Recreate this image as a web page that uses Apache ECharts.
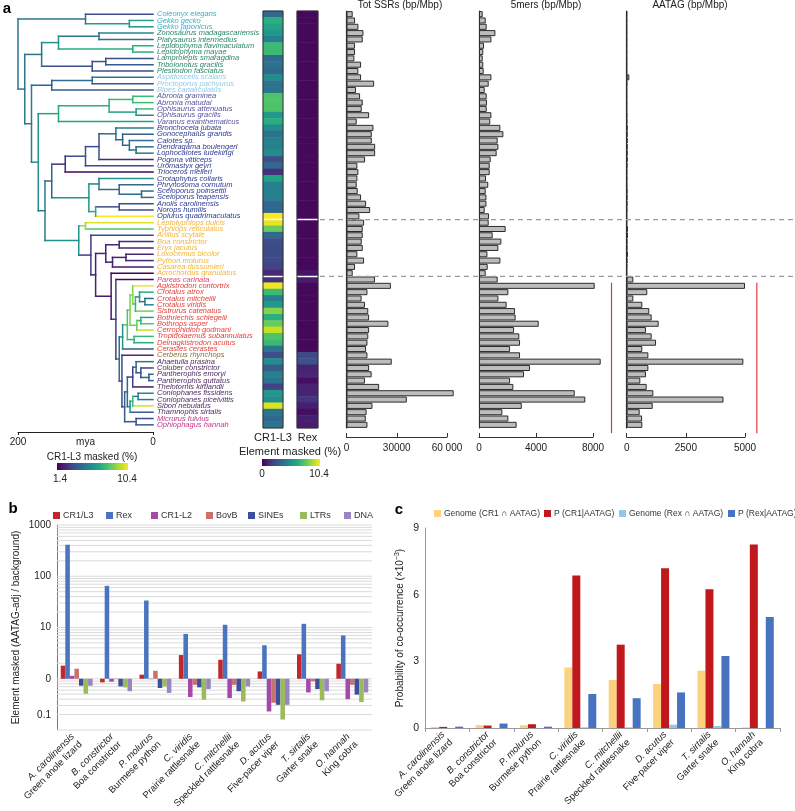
<!DOCTYPE html>
<html><head><meta charset="utf-8">
<script src="https://cdn.jsdelivr.net/npm/echarts@6/dist/echarts.min.js"></script>
<style>html,body{margin:0;padding:0;background:#fff}#c{width:795px;height:811px}</style>
</head><body><div id="c"></div>
<script>
// ---------------- DATA ----------------
const species = ['Coleonyx elegans','Gekko gecko','Gekko japonicus','Zonosaurus madagascariensis','Platysaurus intermedius','Lepidophyma flavimaculatum','Lepidophyma mayae','Lamprolepis smaragdina','Tribolonotus gracilis','Plestiodon fasciatus','Aspidoscelis scalaris','Proctoporus pachyurus','Bipes canaliculatus','Abronia graminea','Abronia matudai','Ophisaurus attenuatus','Ophisaurus gracilis','Varanus exanthematicus','Bronchocela jubata','Gonocephalus grandis','Calotes sp.','Dendragama boulengeri','Lophocalotes ludekingi','Pogona vitticeps','Uromastyx geyri','Trioceros melleri','Crotaphytus collaris','Phrynosoma cornutum','Sceloporus poinsettii','Sceloporus teapensis','Anolis carolinensis','Norops humilis','Oplurus quadrimaculatus','Leptotyphlops dulcis','Typhlops reticulatus','Anilius scytale','Boa constrictor','Eryx jaculus','Loxocemus bicolor','Python molurus','Casarea dussumieri','Acrochordus granulatus','Pareas carinata','Agkistrodon contortrix','Crotalus atrox','Crotalus mitchellii','Crotalus viridis','Sistrurus catenatus','Bothriechis schlegelii','Bothrops asper','Cerrophidion godmani','Tropidolaemus subannulatus','Deinagkistrodon acutus','Cerastes cerastes','Cerberus rhynchops','Ahaetulla prasina','Coluber constrictor','Pantherophis emoryi','Pantherophis guttatus','Thelotornis kirtlandii','Coniophanes fissidens','Coniophanes piceivittis','Sibon nebulatus','Thamnophis sirtalis','Micrurus fulvius','Ophiophagus hannah'];
const speciesClade = ['gek','gek','gek','sci','sci','sci','sci','sci','sci','sci','lac','lac','lac','ang','ang','ang','ang','ang','igu','igu','igu','igu','igu','igu','igu','igu','igu','igu','igu','igu','igu','igu','igu','hen','hen','hen','hen','hen','hen','hen','hen','hen','par','vip','vip','vip','vip','vip','vip','vip','vip','vip','vip','vip','cer','col','col','col','col','col','col','col','col','col','ela','ela'];
const cr1l3 = [3.5,6.5,6.0,5.5,4.5,7.0,7.0,3.5,4.0,3.5, 5.0,4.0,4.0,7.5,7.5,7.5,5.5,6.5,5.0,4.0, 4.5,4.5,5.0,2.5,3.5,1.5,6.0,4.5,4.5,4.5, 3.5,3.5,10.4,10.0,8.0,3.5,2.5,2.3,2.3,2.3, 2.0,1.2,1.5,10.2,7.0,4.5,5.5,8.5,6.5,8.0, 9.5,7.5,7.0,4.0,2.5,5.0,3.0,4.5,4.0,2.0, 5.5,5.0,9.8,4.0,3.5,4.0];
const rexMasked = [0.2,0.2,0.2,0.2,0.2,0.2,0.2,0.2,0.2,0.2, 0.2,0.2,0.2,0.2,0.2,0.2,0.2,0.2,0.2,0.2, 0.2,0.2,0.2,0.2,0.2,0.2,0.2,0.2,0.2,0.2, 0.2,0.2,0.2,0.2,0.2,0.2,0.2,0.2,0.2,0.2, 0.2,0.6,0.8,0.2,0.2,0.2,0.2,0.2,0.2,0.2, 0.2,0.2,0.2,0.2,2.3,2.6,1.0,1.1,0.4,1.0, 1.0,1.6,0.9,0.4,0.9,0.8];
const totSSR = [3700,5100,7100,10100,9700,5100,5100,4700,8700,7100, 8700,16500,5700,8100,9700,9100,13500,6100,16100,15100, 15100,17100,17100,11100,6500,7100,6500,6100,6700,8700, 11700,14100,7700,10500,9700,9700,9100,9700,6500,10500, 5100,3700,17000,26500,12500,9000,11000,13000,13500,25000, 13500,13000,12500,11700,12500,27000,13500,15000,11000,19500, 64000,36000,15500,12000,11500,12500];
const fiveMers = [260,470,540,1150,870,350,300,260,300,330, 870,680,400,540,560,540,870,790,1500,1710, 1310,1360,1240,820,750,750,490,650,470,520, 520,400,700,680,1870,960,1570,1360,590,1500, 610,470,1310,8120,2060,1360,1940,2530,2570,4190, 2460,2830,2880,2180,2880,8540,3580,3160,2180,2410, 6720,7460,3000,1640,2060,2640];
const aatag = [5,5,5,5,5,5,5,5,5,5, 110,10,5,5,5,5,10,10,30,30, 30,30,30,30,20,10,10,10,20,20, 20,10,5,5,50,50,20,20,50,20, 10,5,280,5000,870,280,660,955,1055,1350, 815,1055,1240,660,915,4930,915,815,575,845, 1125,4090,1100,550,650,660];
// tree: leaves are row indices, number after ')' is node age (mya)
const treeGekkota = '(0,(1,2)35)100';
const treeScinci = '(((3,4)80,(5,6)30)140,((7,8)70,9)90)165';
const treeLacert = '((10,11)90,12)150';
const treeAngui = '(((13,14)30,(15,16)25)65,17)140';
const treeIguania = '(((((18,(19,(20,(21,22)25)35)45)55,23)80,24)100,25)130,((26,(27,(28,29)17)50)80,((30,31)50,32)85)95)150';
const treeViper = '((((43,((44,(45,46)12)20,47)26)30,((48,49)18,50)24)34,(51,52)28)38,53)45';
const treeColub = '(54,((((55,(56,(57,58)6)18)25,59)30,(((60,61)22,62)30,63)34)38,(64,65)25)42)46';
const treeSnake = `((33,34)100,(35,(((36,37)50,((38,39)40,40)60)70,(41,(42,(${treeViper},${treeColub})50)55)62)85)92)110`;
const treeNewick = `(${treeGekkota},(${treeScinci},(${treeLacert},(${treeAngui},(${treeIguania},${treeSnake})160)170)180)190)200`;
const groupBreaks = [33, 42];           // row boundaries marked by dashed lines
const snakeSpan = [43, 66.8];           // rows spanned by red reference lines
const red5mers = 9300, redAATAG = 5500; // positions of red reference lines
const totTicks = {0:'0', 30000:'30000', 60000:'60 000'};

// panel b
const bSpecies = ['A. carolinensis','B. constrictor','P. molurus','C. viridis','C. mitchellii','D. acutus','T. sirtalis','O. hannah'];
const bCommon = ['Green anole lizard','Boa constrictor','Burmese python','Prairie rattlesnake','Speckled rattlesnake','Five-pacer viper','Garter snake','King cobra'];
const bCR1L3 = [1.8,0.85,1.2,2.9,2.35,1.39,3.0,1.96];
const bRex   = [410,65,33.6,7.5,11.3,4.5,11.8,7.0];
const bCR1L2 = [1.14,0.88,0.98,0.44,0.42,0.23,0.54,0.40];
const bBovB  = [1.57,0.98,1.43,0.76,0.76,0.34,0.89,0.76];
const bSINEs = [0.73,0.71,0.66,0.68,0.57,0.31,0.63,0.49];
const bLTRs  = [0.51,0.68,0.71,0.39,0.36,0.16,0.38,0.35];
const bDNA   = [0.73,0.57,0.53,0.63,0.71,0.31,0.57,0.54];
const bTickLog = [3,2,1,0,-0.72];
const bTickLabels = ['1000','100','10','0','0.1'];
const bGridValues = [0.1,0.2,0.3,0.4,0.5,0.6,0.7,0.8,0.9,1,2,3,4,5,6,7,8,9,10,20,30,40,50,60,70,80,90,100,200,300,400,500,600,700,800,900,1000];
// panel c
const cGenomeCR1 = [0.05,0.13,0.13,2.72,2.16,1.98,2.58,0.03];
const cPCR1      = [0.05,0.11,0.17,6.86,3.75,7.19,6.24,8.26];
const cGenomeRex = [0.0,0.0,0.0,0.03,0.03,0.15,0.09,0.0];
const cPRex      = [0.06,0.2,0.06,1.53,1.34,1.6,3.24,5.0];

// ---------------- STYLE / HELPERS ----------------
const FONT = '"Liberation Sans", Arial, Helvetica, sans-serif';
const VIR = ['#440154','#482475','#414487','#355f8d','#2a788e','#21918c','#22a884','#44bf70','#7ad151','#bddf26','#fde725'];
const cladeColors = {gek:'#3aafc6', sci:'#2b8569', lac:'#96c9e6', ang:'#55549f', igu:'#2b3a8e', hen:'#f2b53b', par:'#e0457f', vip:'#e5413b', cer:'#8c6d36', col:'#4e2a63', ela:'#c2348a'};
function hex(h){return [parseInt(h.slice(1,3),16),parseInt(h.slice(3,5),16),parseInt(h.slice(5,7),16)];}
function viridis(t){
  t=Math.max(0,Math.min(1,t)); const p=t*10; const i=Math.min(9,Math.floor(p)); const f=p-i;
  const a=hex(VIR[i]), b=hex(VIR[i+1]);
  return 'rgb('+a.map((x,k)=>Math.round(x+(b[k]-x)*f)).join(',')+')';
}
function parseTree(s){
  let i=0;
  function node(){
    if(s[i]==='('){
      i++; const children=[node()];
      while(s[i]===','){i++; children.push(node());}
      i++; let num=''; while(i<s.length && /[0-9.]/.test(s[i])) num+=s[i++];
      return {children, age:+num};
    }
    let num=''; while(i<s.length && /[0-9]/.test(s[i])) num+=s[i++];
    return {leaf:+num, age:0};
  }
  return node();
}
const treeSegs = [];
(function layout(n){
  if(n.leaf!==undefined){ n.y=n.leaf+0.5; n.v=cr1l3[n.leaf]; return; }
  n.children.forEach(layout);
  const f=n.children[0], l=n.children[n.children.length-1];
  n.y=(f.y+l.y)/2;
  n.v=n.children.reduce((a,c)=>a+c.v,0)/n.children.length;
  n.children.forEach(c=>treeSegs.push([n.age,c.y,c.age,c.y,c.v]));
  treeSegs.push([n.age,f.y,n.age,l.y,n.v]);
})(parseTree(treeNewick));

function segSeries(xi, yi, segs, stroke, width, dash){
  return {type:'custom', xAxisIndex:xi, yAxisIndex:yi, data:segs, silent:true, clip:false, z:5,
    renderItem(params, api){
      const p1=api.coord([api.value(0),api.value(1)]), p2=api.coord([api.value(2),api.value(3)]);
      return {type:'line', shape:{x1:p1[0],y1:p1[1],x2:p2[0],y2:p2[1]}, style:{stroke, lineWidth:width, lineDash:dash||null}};
    }};
}

const TOP=11, H=417, HX=423.4;
const grids = [
  {left:18, top:TOP, width:135, height:H},        // 0 tree
  {left:263, top:TOP, width:20, height:H, show:true, borderColor:'#333', borderWidth:1, z:6}, // 1 CR1 heat
  {left:297, top:TOP, width:21, height:H, show:true, borderColor:'#333', borderWidth:1, z:6}, // 2 Rex heat
  {left:346.5, top:TOP, width:100.5, height:H},    // 3 tot
  {left:479, top:TOP, width:114, height:H},        // 4 5mers
  {left:626.7, top:TOP, width:118.3, height:H},    // 5 AATAG
  {left:320, top:TOP, width:475, height:HX},       // 6 dash overlay
  {left:263, top:TOP, width:55, height:HX},        // 7 heat overlay
  {left:479, top:TOP, width:114, height:HX},       // 8 5mers overlay
  {left:626.7, top:TOP, width:118.3, height:HX},   // 9 AATAG overlay
  {left:57, top:525, width:315, height:205},       // 10 b
  {left:425, top:528, width:355, height:200}       // 11 c
].map(g=>Object.assign({outerBoundsMode:'none', containLabel:false}, g));

const txt = {fontFamily:FONT, color:'#222'};
const hiddenVal = (gi,min,max,inv)=>({type:'value', gridIndex:gi, min, max, inverse:!!inv, show:false});
const barX = (gi,max,interval,fmt)=>({type:'value', gridIndex:gi, min:0, max, interval, offset:9,
  axisLine:{show:true, onZero:false, lineStyle:{color:'#333', width:1}}, axisTick:{show:true, inside:true, length:4, lineStyle:{color:'#333'}},
  splitLine:{show:false}, axisLabel:Object.assign({fontSize:10, margin:6, formatter:fmt}, txt)});
const barY = gi=>({type:'category', gridIndex:gi, data:species, inverse:true,
  axisLine:{show:true, onZero:false, lineStyle:{color:'#333', width:1.2}}, axisTick:{show:false}, axisLabel:{show:false}});
const catLabel = ()=>({interval:0, rotate:45, margin:9, fontFamily:FONT,
  formatter:(v,i)=>`{i|${bSpecies[i]}}\n{n|${bCommon[i]}}`,
  rich:{i:{fontStyle:'italic', fontSize:9.5, fontFamily:FONT, color:'#222', align:'right', lineHeight:11},
        n:{fontSize:9.5, fontFamily:FONT, color:'#222', align:'right', lineHeight:11}}});

const xAxes = [
  {type:'value', gridIndex:0, min:0, max:200, interval:200, inverse:true, offset:4,
   axisLine:{show:true, onZero:false, lineStyle:{color:'#222'}}, axisTick:{show:true, length:3, lineStyle:{color:'#222'}}, splitLine:{show:false},
   axisLabel:Object.assign({fontSize:10, margin:5}, txt), name:'mya', nameLocation:'middle', nameGap:5, nameMoveOverlap:false,
   nameTextStyle:Object.assign({fontSize:10, verticalAlign:'top'}, txt)},
  {type:'category', gridIndex:1, data:['CR1-L3'], axisLine:{show:false}, axisTick:{show:false}, axisLabel:Object.assign({fontSize:11, margin:4}, txt)},
  {type:'category', gridIndex:2, data:['Rex'], axisLine:{show:false}, axisTick:{show:false}, axisLabel:Object.assign({fontSize:11, margin:4}, txt)},
  barX(3,60000,30000,v=>totTicks[v]||''),
  barX(4,8000,4000,v=>String(v)),
  barX(5,5000,2500,v=>String(v)),
  hiddenVal(6,0,1), hiddenVal(7,0,1), hiddenVal(8,0,8000), hiddenVal(9,0,5000),
  {type:'category', gridIndex:10, data:bSpecies, axisLine:{show:false, onZero:false}, axisTick:{show:false}, axisLabel:catLabel()},
  {type:'category', gridIndex:11, data:bSpecies, axisLine:{show:true, onZero:false, lineStyle:{color:'#9a9a9a'}}, axisTick:{show:true, length:4, lineStyle:{color:'#9a9a9a'}}, axisLabel:catLabel()}
];
const yAxes = [
  hiddenVal(0,0,66,true),
  {type:'category', gridIndex:0, data:species, inverse:true, position:'right', axisLine:{show:false}, axisTick:{show:false},
   axisLabel:{interval:0, margin:4, fontSize:7.5, fontStyle:'italic', fontFamily:FONT, color:(v,i)=>cladeColors[speciesClade[i!==undefined?i:species.indexOf(v)]]}},
  {type:'category', gridIndex:1, data:species, inverse:true, show:false},
  {type:'category', gridIndex:2, data:species, inverse:true, show:false},
  barY(3), barY(4), barY(5),
  hiddenVal(6,0,67,true), hiddenVal(7,0,67,true), hiddenVal(8,0,67,true), hiddenVal(9,0,67,true),
  {type:'value', gridIndex:10, min:-1, max:3, interval:0.04, axisLine:{show:true, onZero:false, lineStyle:{color:'#777'}}, axisTick:{show:false}, splitLine:{show:false},
   axisLabel:Object.assign({fontSize:10, margin:6, formatter:v=>{for(let k=0;k<bTickLog.length;k++) if(Math.abs(bTickLog[k]-v)<0.01) return bTickLabels[k]; return '';}}, txt),
   name:'Element masked (AATAG-adj / background)', nameLocation:'middle', nameRotate:90, nameGap:36, nameTextStyle:Object.assign({fontSize:10}, txt)},
  {type:'value', gridIndex:11, min:0, max:9, interval:3, axisLine:{show:true, onZero:false, lineStyle:{color:'#9a9a9a'}}, axisTick:{show:false}, splitLine:{show:false},
   axisLabel:Object.assign({fontSize:10.5, margin:6}, txt),
   name:'{t|Probability of co-occurrence (×10}{s|−3}{t|)}', nameLocation:'middle', nameRotate:90, nameGap:18,
   nameTextStyle:{rich:{t:{fontSize:10, fontFamily:FONT, color:'#222'}, s:{fontSize:7, fontFamily:FONT, color:'#222', padding:[0,0,6,0]}}}}
];

const series = [];
// tree
series.push({type:'custom', xAxisIndex:0, yAxisIndex:0, data:treeSegs, silent:true, clip:false,
  renderItem(params, api){
    const p1=api.coord([api.value(0),api.value(1)]), p2=api.coord([api.value(2),api.value(3)]);
    return {type:'line', shape:{x1:p1[0],y1:p1[1],x2:p2[0],y2:p2[1]}, style:{stroke:viridis((api.value(4)-1.4)/9), lineWidth:1.5, lineCap:'square'}};
  }});
// heatmaps
const hmStart = series.length;
series.push({type:'heatmap', xAxisIndex:1, yAxisIndex:2, data:cr1l3.map((v,i)=>[0,i,v]), itemStyle:{borderWidth:0}, emphasis:{disabled:true}});
series.push({type:'heatmap', xAxisIndex:2, yAxisIndex:3, data:rexMasked.map((v,i)=>[0,i,v]), itemStyle:{borderWidth:0}, emphasis:{disabled:true}});
// bar panels
const barStyle = {color:'#bdbdbd', borderColor:'#2b2b2b', borderWidth:1};
[[3,totSSR],[4,fiveMers],[5,aatag]].forEach(([gi,arr])=>{
  series.push({type:'bar', xAxisIndex:gi, yAxisIndex:gi+1, data:arr, barCategoryGap:'4%', itemStyle:barStyle, clip:false, silent:true});
});
// separators & reference lines
series.push(segSeries(7,8,groupBreaks.map(r=>[0,r,1,r]),'#ffffff',1.5));
series.push(segSeries(6,7,groupBreaks.map(r=>[0,r,1,r]),'#9a9a9a',1.3,[5,4]));
series.push(segSeries(8,9,[[red5mers,snakeSpan[0],red5mers,snakeSpan[1]]],'#e0393b',1.2));
series.push(segSeries(9,10,[[redAATAG,snakeSpan[0],redAATAG,snakeSpan[1]]],'#e0393b',1.2));
// panel b gridlines
series.push({type:'custom', xAxisIndex:10, yAxisIndex:11, data:bGridValues.map(v=>[0,Math.log10(v)]), silent:true, z:1,
  renderItem(params, api){
    const cs=params.coordSys; const y=api.coord([0,api.value(1)])[1];
    return {type:'line', shape:{x1:cs.x,y1:y,x2:cs.x+cs.width,y2:y}, style:{stroke:'#dadada', lineWidth:1}};
  }});
const bSeries = [['CR1/L3',bCR1L3,'#c1272d'],['Rex',bRex,'#4a74bd'],['CR1-L2',bCR1L2,'#a548a8'],['BovB',bBovB,'#c9726d'],['SINEs',bSINEs,'#3d4f9a'],['LTRs',bLTRs,'#9bbb59'],['DNA',bDNA,'#9786c0']];
bSeries.forEach(([name,arr,color])=>series.push({type:'bar', name, xAxisIndex:10, yAxisIndex:11, data:arr.map(v=>Math.log10(v)), itemStyle:{color}, barGap:'0%', barCategoryGap:'19%', silent:true, z:3}));
const cSeries = [['Genome (CR1 ∩ AATAG)',cGenomeCR1,'#fdd27f'],['P (CR1|AATAG)',cPCR1,'#c0181d'],['Genome (Rex ∩ AATAG)',cGenomeRex,'#8fcbe8'],['P (Rex|AATAG)',cPRex,'#4873c1']];
cSeries.forEach(([name,arr,color])=>series.push({type:'bar', name, xAxisIndex:11, yAxisIndex:12, data:arr, itemStyle:{color}, barGap:'0%', barCategoryGap:'28%', silent:true}));

const legendDef = (name,left,top,fs)=>({data:[name], left, top, padding:0, itemWidth:7, itemHeight:7, icon:'rect', selectedMode:false,
  textStyle:{fontSize:fs, fontFamily:FONT, color:'#333', padding:[0,0,0,-2]}});
const legends = [
  legendDef('CR1/L3',53,511,9), legendDef('Rex',106,511,9), legendDef('CR1-L2',151,511,9), legendDef('BovB',206,511,9),
  legendDef('SINEs',248,511,9), legendDef('LTRs',300,511,9), legendDef('DNA',344,511,9),
  legendDef('Genome (CR1 ∩ AATAG)',434,509,8.5), legendDef('P (CR1|AATAG)',544,509,8.5), legendDef('Genome (Rex ∩ AATAG)',619,509,8.5), legendDef('P (Rex|AATAG)',728,509,8.5)
];

const grad = {type:'linear', x:0, y:0, x2:1, y2:0, colorStops:VIR.map((c,k)=>({offset:k/10, color:c}))};
const gtext = (x,y,text,size,extra)=>({type:'text', x, y, style:Object.assign({text, fontSize:size, fontFamily:FONT, fill:'#222', align:'center', verticalAlign:'middle'}, extra||{})});
const graphic = [
  gtext(7,9,'a',15,{fontWeight:'bold', fill:'#000'}),
  gtext(13,509,'b',15,{fontWeight:'bold', fill:'#000'}),
  gtext(399,510,'c',15,{fontWeight:'bold', fill:'#000'}),
  gtext(400,5,'Tot SSRs (bp/Mbp)',10), gtext(546,5,'5mers (bp/Mbp)',10), gtext(690,5,'AATAG (bp/Mbp)',10),
  gtext(290,452,'Element masked (%)',11),
  {type:'rect', shape:{x:262, y:459, width:58, height:7}, style:{fill:grad}},
  gtext(262,474,'0',10), gtext(319,474,'10.4',10),
  gtext(92,457,'CR1-L3 masked (%)',10),
  {type:'rect', shape:{x:57, y:463, width:71, height:7}, style:{fill:grad}},
  gtext(60,479,'1.4',10), gtext(127,479,'10.4',10)
];

const chart = echarts.init(document.getElementById('c'), null, {renderer:'canvas'});
chart.setOption({
  animation:false, backgroundColor:'#fff',
  grid:grids, xAxis:xAxes, yAxis:yAxes, series, legend:legends, graphic,
  visualMap:[{type:'continuous', min:0, max:10.4, inRange:{color:VIR}, seriesIndex:[hmStart,hmStart+1], show:false}]
});
</script></body></html>
